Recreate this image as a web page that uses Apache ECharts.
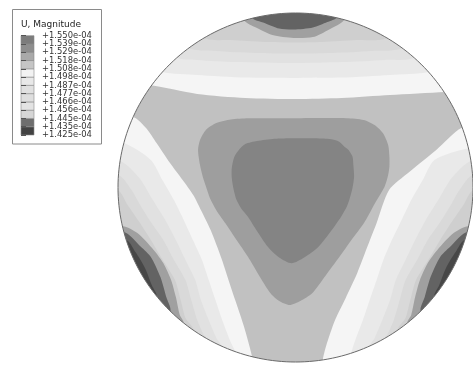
<!DOCTYPE html>
<html><head><meta charset="utf-8">
<script src="https://cdn.jsdelivr.net/npm/echarts@6/dist/echarts.min.js"></script>
<style>html,body{margin:0;padding:0;background:#fff}#c{width:473px;height:374px}</style>
</head><body><div id="c"></div>
<script>
// ---- legend data ----
const legendTitle = 'U, Magnitude';
const tickLabels = ['+1.425e-04','+1.435e-04','+1.445e-04','+1.456e-04','+1.466e-04','+1.477e-04','+1.487e-04','+1.498e-04','+1.508e-04','+1.518e-04','+1.529e-04','+1.539e-04','+1.550e-04'];
const legendColors = ['#424242','#6e6e6e','#d6d6d6','#e3e3e3','#dedede','#e0e0e0','#e8e8e8','#f2f2f2','#c5c5c5','#a9a9a9','#8e8e8e','#7c7c7c'];

// ---- contour data (disk coordinates, unit = disk radius) ----
const innerTriangle = [[-.011,.282],[-.120,.279],[-.217,.266],[-.283,.249],[-.315,.221],[-.345,.175],[-.359,.112],[-.359,.054],[-.348,-.014],[-.332,-.072],[-.304,-.123],[-.268,-.167],[-.217,-.249],[-.156,-.339],[-.092,-.401],[-.022,-.434],[.049,-.401],[.130,-.339],[.196,-.255],[.257,-.167],[.288,-.112],[.303,-.072],[.321,-.003],[.330,.062],[.326,.129],[.321,.177],[.299,.215],[.276,.234],[.239,.266],[.179,.279],[.087,.282]];
const outerTriangle = [[-.011,.397],[-.266,.397],[-.364,.390],[-.446,.370],[-.505,.330],[-.538,.272],[-.549,.215],[-.538,.129],[-.522,.060],[-.504,.005],[-.477,-.072],[-.440,-.140],[-.395,-.205],[-.332,-.301],[-.268,-.397],[-.207,-.501],[-.141,-.606],[-.092,-.650],[-.033,-.673],[.027,-.650],[.094,-.606],[.168,-.507],[.248,-.397],[.315,-.301],[.385,-.205],[.447,-.091],[.502,.005],[.522,.072],[.529,.119],[.529,.177],[.522,.244],[.493,.311],[.446,.358],[.384,.387],[.288,.397]];
const armsRegion = [[-.826,.587],[-.554,.536],[-.283,.513],[0,.507],[.261,.513],[.533,.530],[.842,.547],[.967,.559],[1.049,.330],[.935,.341],[.793,.215],[.641,.089],[.527,-.014],[.457,-.203],[.402,-.347],[.348,-.490],[.283,-.633],[.223,-.759],[.174,-.903],[.152,-1.0],[.152,-1.132],[-.239,-1.132],[-.239,-1.0],[-.293,-.788],[-.359,-.587],[-.418,-.404],[-.478,-.244],[-.533,-.129],[-.576,-.043],[-.636,.043],[-.707,.140],[-.783,.255],[-.842,.341],[-.913,.404],[-1.043,.404],[-.989,.587]];
const whiteRegion = [[-.750,.662],[-.554,.645],[-.283,.630],[0,.628],[.261,.630],[.533,.645],[.750,.662],[.913,.731],[1.076,.501],[1.076,.226],[.978,.226],[.783,.158],[.717,.043],[.652,-.072],[.598,-.186],[.543,-.301],[.495,-.415],[.457,-.530],[.418,-.645],[.380,-.759],[.337,-.874],[.315,-.954],[.315,-1.160],[-.337,-1.160],[-.337,-.954],[-.370,-.874],[-.413,-.759],[-.451,-.645],[-.489,-.530],[-.527,-.415],[-.578,-.301],[-.630,-.186],[-.685,-.072],[-.750,.043],[-.815,.158],[-.967,.255],[-1.098,.255],[-1.098,.501],[-.880,.731]];

const topCapA = [[-.674,.748],[-.554,.731],[-.337,.719],[-.011,.713],[.261,.719],[.505,.731],[.674,.748]];
const topCapB = [[-.609,.805],[-.446,.782],[-.228,.771],[-.011,.768],[.207,.771],[.424,.782],[.609,.805]];
const topCapC = [[-.522,.862],[-.364,.845],[-.174,.834],[-.011,.831],[.152,.834],[.342,.845],[.522,.862]];
const topCapD = [[-.293,.963],[-.217,.914],[-.130,.874],[-.011,.857],[.098,.862],[.185,.903],[.277,.966]];
const topCapE = [[-.250,.977],[-.174,.943],[-.092,.911],[-.011,.905],[.098,.917],[.179,.948],[.234,.977]];

const leftCapA = [[-.989,.152],[-.880,.054],[-.804,-.072],[-.734,-.186],[-.674,-.301],[-.620,-.415],[-.565,-.530],[-.533,-.645],[-.489,-.759],[-.446,-.862],[-.418,-.914]];
const leftCapB = [[-1.0,.072],[-.924,-.014],[-.875,-.100],[-.815,-.198],[-.745,-.301],[-.685,-.415],[-.620,-.530],[-.587,-.645],[-.554,-.759],[-.516,-.845],[-.489,-.885]];
const leftCapC = [[-1.005,-.014],[-.946,-.100],[-.880,-.198],[-.815,-.301],[-.755,-.404],[-.679,-.530],[-.647,-.645],[-.620,-.748],[-.576,-.822]];
const leftCapD = [[-.984,-.221],[-.891,-.261],[-.799,-.358],[-.745,-.433],[-.701,-.530],[-.674,-.628],[-.652,-.731],[-.630,-.782]];
const leftCapE = [[-.973,-.255],[-.870,-.341],[-.815,-.398],[-.761,-.513],[-.728,-.628],[-.707,-.713]];
const leftCapF = [[-.957,-.301],[-.902,-.370],[-.848,-.461],[-.810,-.559],[-.783,-.633]];

const rightCapA = [[.989,.152],[.880,.054],[.804,-.072],[.734,-.186],[.674,-.301],[.620,-.415],[.565,-.530],[.533,-.645],[.489,-.759],[.446,-.862],[.418,-.914]];
const rightCapB = [[1.0,.072],[.924,-.014],[.875,-.100],[.815,-.198],[.745,-.301],[.685,-.415],[.620,-.530],[.587,-.645],[.554,-.759],[.516,-.845],[.489,-.885]];
const rightCapC = [[1.005,-.014],[.946,-.100],[.880,-.198],[.815,-.301],[.755,-.404],[.679,-.530],[.647,-.645],[.620,-.748],[.576,-.822]];
const rightCapD = [[.984,-.221],[.891,-.261],[.799,-.358],[.745,-.433],[.701,-.530],[.674,-.628],[.652,-.731],[.630,-.782]];
const rightCapE = [[.973,-.255],[.870,-.341],[.815,-.398],[.761,-.513],[.728,-.628],[.707,-.713]];
const rightCapF = [[.957,-.301],[.902,-.370],[.848,-.461],[.810,-.559],[.783,-.633]];

// ---- styles ----
const fieldColors = {background:'#e9e9e9', capA:'#e1e1e1', capB:'#d9d9d9', capC:'#cfcfcf', capD:'#a0a0a0', capE:'#636363', capF:'#474747', white:'#f5f5f5', arms:'#c1c1c1', outer:'#9e9e9e', inner:'#848484'};

const layers = [{kind:'bg', color:fieldColors.background}];
const addCaps = (list, color) => list.forEach(p => layers.push({kind:'cap', pts:p, color}));
addCaps([topCapA, leftCapA, rightCapA], fieldColors.capA);
addCaps([topCapB, leftCapB, rightCapB], fieldColors.capB);
addCaps([topCapC, leftCapC, rightCapC], fieldColors.capC);
addCaps([topCapD, leftCapD, rightCapD], fieldColors.capD);
addCaps([topCapE, leftCapE, rightCapE], fieldColors.capE);
addCaps([leftCapF, rightCapF], fieldColors.capF);
layers.push({kind:'closed', pts:whiteRegion, color:fieldColors.white});
layers.push({kind:'closed', pts:armsRegion, color:fieldColors.arms});
layers.push({kind:'closed', pts:outerTriangle, color:fieldColors.outer});
layers.push({kind:'closed', pts:innerTriangle, color:fieldColors.inner});

function renderField(params, api) {
  const L = layers[params.dataIndex];
  let pts;
  if (L.kind === 'bg') pts = [[-3,-3],[3,-3],[3,3],[-3,3]];
  else if (L.kind === 'cap') {
    const f = L.pts[0], l = L.pts[L.pts.length-1];
    let mx = f[0]+l[0], my = f[1]+l[1]; const m = Math.hypot(mx,my); mx/=m; my/=m;
    pts = L.pts.concat([[l[0]*1.5,l[1]*1.5],[mx*1.6,my*1.6],[f[0]*1.5,f[1]*1.5]]);
  } else pts = L.pts;
  return {type:'polygon', silent:true, shape:{points:pts.map(p=>api.coord(p)), smooth: L.kind==='bg'?0:0.25}, style:{fill:L.color}};
}

function renderMask(params, api) {
  const ring = [];
  for (let k=0;k<=240;k++){ const t=k/240*2*Math.PI; ring.push(api.coord([Math.cos(t), Math.sin(t)])); }
  const outer = [[1,0],[4,0],[4,-4],[-4,-4],[-4,4],[4,4],[4,0]].map(p=>api.coord(p));
  return {type:'group', silent:true, children:[
    {type:'polygon', shape:{points:ring.concat(outer)}, style:{fill:'#ffffff'}},
    {type:'polyline', shape:{points:ring}, style:{stroke:'#6a6a6a', lineWidth:1, fill:null}}
  ]};
}

function renderSwatch(params, api) {
  const i = params.dataIndex;
  const a = api.coord([0, i+1]), b = api.coord([1, i]);
  return {type:'rect', shape:{x:a[0], y:a[1], width:b[0]-a[0], height:b[1]-a[1]}, style:{fill:legendColors[i], stroke:'#8c8c8c', lineWidth:0.6}};
}

const chart = echarts.init(document.getElementById('c'), null, {renderer:'canvas'});
chart.setOption({
  animation:false,
  backgroundColor:'#ffffff',
  grid:[
    {left:118, top:13, width:368, height:349},
    {left:21, top:35.7, width:13, height:99.3}
  ],
  xAxis:[
    {gridIndex:0, type:'value', min:-1, max:1, show:false},
    {gridIndex:1, type:'value', min:0, max:1, show:false}
  ],
  yAxis:[
    {gridIndex:0, type:'value', min:-1, max:1, show:false},
    {gridIndex:1, type:'value', min:0, max:12, interval:1, position:'right', z:20,
     axisLine:{show:false}, splitLine:{show:false},
     axisTick:{show:true, length:5, lineStyle:{color:'#555', width:1}},
     axisLabel:{show:true, margin:8, fontSize:8.4, fontFamily:'DejaVu Sans', color:'#333', formatter:v=>tickLabels[v]}}
  ],
  graphic:[
    {type:'rect', z:8, silent:true, shape:{x:12.5, y:9.5, width:89, height:134.5}, style:{fill:'#fff', stroke:'#8a8a8a', lineWidth:1}},
    {type:'text', z:20, silent:true, style:{text:legendTitle, x:21, y:25, font:'9px "DejaVu Sans"', fill:'#1e1e1e', textVerticalAlign:'middle'}}
  ],
  series:[
    {type:'custom', xAxisIndex:0, yAxisIndex:0, z:2, clip:false, renderItem:renderField, data:layers.map((_,i)=>[i,0])},
    {type:'custom', xAxisIndex:0, yAxisIndex:0, z:5, clip:false, renderItem:renderMask, data:[[0,0]]},
    {type:'custom', xAxisIndex:1, yAxisIndex:1, z:10, clip:false, renderItem:renderSwatch, data:legendColors.map((_,i)=>[0,i])}
  ]
});
</script></body></html>
